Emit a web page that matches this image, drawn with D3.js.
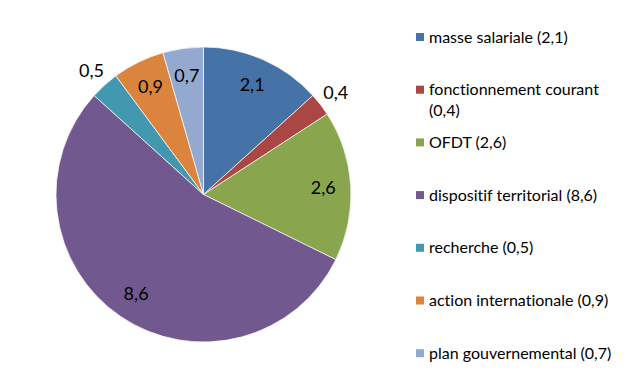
<!DOCTYPE html>
<html>
<head>
<meta charset="utf-8">
<script src="https://cdn.jsdelivr.net/npm/d3@7"></script>
<style>
  body { margin: 0; background: #fff; }
  text { font-family: Lato, "Open Sans", sans-serif; font-variant-ligatures: none; }
</style>
</head>
<body>
<div id="grafico"></div>
<script>
// données
const categories = ["masse salariale", "fonctionnement courant", "OFDT", "dispositif territorial", "recherche", "action internationale", "plan gouvernemental"];
const valeurs = [2.1, 0.4, 2.6, 8.6, 0.5, 0.9, 0.7];
const couleurs = ["#4572A7", "#AA4643", "#89A54E", "#71588F", "#4198AF", "#DB843D", "#93A9CF"];

const WIDTH = 630;
const HEIGHT = 389;
const CX = 203.5;
const CY = 194.5;
const RADIO = 147.5;
const X_LEYENDA = 416;

const fmt = v => String(v).replace(".", ",");

const svg = d3.select("#grafico").append("svg").attr("width", WIDTH).attr("height", HEIGHT);

const datos = categories.map((c, i) => ({ nombre: c, valor: valeurs[i], color: couleurs[i] }));

const pie = d3.pie().sort(null).value(d => d.valor);
const arco = d3.arc().innerRadius(0).outerRadius(RADIO);
const arcoDentro = d3.arc().innerRadius(120).outerRadius(120);
const arcoFuera = d3.arc().innerRadius(167).outerRadius(167);

const grafico = svg.append("g").attr("transform", "translate(" + CX + "," + CY + ")");

const partes = pie(datos);

grafico.selectAll("path")
    .data(partes)
    .enter().append("path")
    .attr("d", arco)
    .attr("fill", d => d.data.color)
    .attr("stroke", "#fff")
    .attr("stroke-width", 0.7);

// etiquetas: las partes pequeñas van fuera
grafico.selectAll(".etiqueta")
    .data(partes)
    .enter().append("text")
    .attr("class", "etiqueta")
    .attr("transform", d => "translate(" + (d.data.valor < 0.6 ? arcoFuera : arcoDentro).centroid(d) + ")")
    .attr("text-anchor", "middle")
    .attr("dy", "0.35em")
    .attr("font-size", 18)
    .attr("fill", "#000")
    .text(d => fmt(d.data.valor));

// leyenda
const leyenda = svg.selectAll(".leyenda")
    .data(datos)
    .enter().append("g")
    .attr("class", "leyenda")
    .attr("transform", (d, i) => "translate(" + X_LEYENDA + "," + (37 + i * 52.7) + ")");

leyenda.append("rect")
    .attr("x", 0)
    .attr("y", -4)
    .attr("width", 8)
    .attr("height", 8)
    .attr("fill", d => d.color);

leyenda.each(function(d) {
    const g = d3.select(this);
    const t = g.append("text")
        .attr("x", 13)
        .attr("dy", "0.35em")
        .attr("font-size", 16)
        .attr("fill", "#000")
        .text(d.nombre + " (" + fmt(d.valor) + ")");
    // partir en dos líneas si no cabe en el ancho
    if (X_LEYENDA + 13 + t.node().getComputedTextLength() > WIDTH - 2) {
        t.text(d.nombre);
        g.append("text")
            .attr("x", 13)
            .attr("y", 21)
            .attr("dy", "0.35em")
            .attr("font-size", 16)
            .attr("fill", "#000")
            .text("(" + fmt(d.valor) + ")");
    }
});
</script>
</body>
</html>
